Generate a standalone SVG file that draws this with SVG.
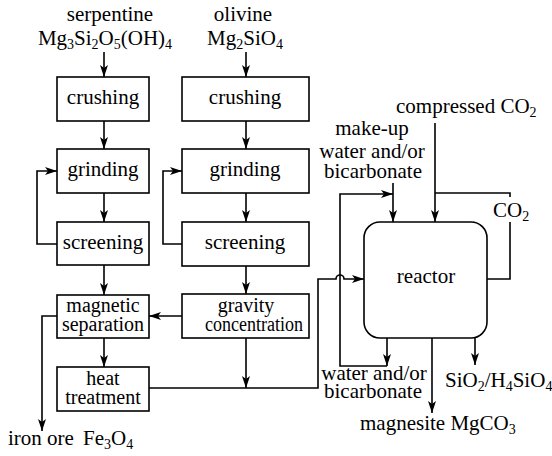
<svg xmlns="http://www.w3.org/2000/svg" width="552" height="456" viewBox="0 0 552 456" font-family="'Liberation Serif', 'DejaVu Serif', serif">
<defs>
<marker id="ah" viewBox="0 0 12 8" markerWidth="12" markerHeight="8" refX="12" refY="4" orient="auto" markerUnits="userSpaceOnUse">
<path d="M0,0 L12,4 L0,8 L3,4 Z" fill="#000"/>
</marker>
</defs>
<style>
text{font-family:'Liberation Serif','DejaVu Serif',serif;font-size:21px;fill:#000}
.m{text-anchor:middle}
.t{font-size:20px}
.s{font-size:14px}
.box{fill:#fff;stroke:#000;stroke-width:1.6}
.ln{fill:none;stroke:#000;stroke-width:1.6}
.ar{fill:none;stroke:#000;stroke-width:1.6;marker-end:url(#ah)}
</style>
<rect width="552" height="456" fill="#fff"/>

<g id="labels-top">
<text x="110" y="21" class="m">serpentine</text>
<text x="105" y="45" class="m">Mg<tspan class="s" dy="4">3</tspan><tspan dy="-4">Si</tspan><tspan class="s" dy="4">2</tspan><tspan dy="-4">O</tspan><tspan class="s" dy="4">5</tspan><tspan dy="-4">(OH)</tspan><tspan class="s" dy="4">4</tspan></text>
<text x="243" y="21" class="m">olivine</text>
<text x="245" y="45" class="m">Mg<tspan class="s" dy="4">2</tspan><tspan dy="-4">SiO</tspan><tspan class="s" dy="4">4</tspan></text>
</g>

<g id="connectors">
<path class="ar" d="M104,52 V77"/>
<path class="ar" d="M104,121 V149"/>
<path class="ar" d="M104,193 V222"/>
<path class="ar" d="M104,265 V295"/>
<path class="ar" d="M104,338 V367"/>
<path class="ar" d="M57,244 H37 V171 H57"/>
<path class="ar" d="M246,52 V77"/>
<path class="ar" d="M246,121 V149"/>
<path class="ar" d="M246,193 V222"/>
<path class="ar" d="M246,266 V294"/>
<path class="ar" d="M246,338 V388"/>
<path class="ar" d="M182,244 H163 V171 H182"/>
<path class="ar" d="M182,316 H149"/>
<path class="ar" d="M57,316 H42 V431"/>
<path class="ar" d="M149,388 H318 V279 H336 a4,4 0 0 1 8,0 H364"/>
<path class="ar" d="M393,183 V222"/>
<path class="ar" d="M435,123 V222"/>
<path class="ar" d="M387,338 V366"/>
<path class="ar" d="M387,366 H340 V194 H393"/>
<path class="ln" d="M435,193 H510 V197"/>
<path class="ln" d="M510,222 V279 H487"/>
<path class="ar" d="M432,338 V413"/>
<path class="ar" d="M475,338 V365"/>
</g>

<g id="s-crushing"><rect class="box" x="57" y="77" width="92" height="44"/><text x="103" y="104" class="m">crushing</text></g>
<g id="s-grinding"><rect class="box" x="57" y="149" width="92" height="44"/><text x="103" y="176" class="m">grinding</text></g>
<g id="s-screening"><rect class="box" x="57" y="222" width="92" height="43"/><text x="103" y="249" class="m">screening</text></g>
<g id="s-magnetic"><rect class="box" x="57" y="295" width="92" height="43"/><text x="103" y="312" class="m t">magnetic</text><text x="103" y="331" class="m t">separation</text></g>
<g id="s-heat"><rect class="box" x="57" y="367" width="92" height="44"/><text x="103" y="385" class="m t">heat</text><text x="103" y="404" class="m t">treatment</text></g>

<g id="o-crushing"><rect class="box" x="182" y="77" width="127" height="44"/><text x="245" y="104" class="m">crushing</text></g>
<g id="o-grinding"><rect class="box" x="182" y="149" width="127" height="44"/><text x="245" y="176" class="m">grinding</text></g>
<g id="o-screening"><rect class="box" x="182" y="222" width="127" height="44"/><text x="245" y="249" class="m">screening</text></g>
<g id="o-gravity"><rect class="box" x="182" y="294" width="127" height="44"/><text x="246" y="312" class="m t">gravity</text><text x="254" y="331" class="m t" textLength="98" lengthAdjust="spacingAndGlyphs">concentration</text></g>

<g id="reactor"><rect class="box" x="364" y="222" width="123" height="116" rx="16" ry="16"/><text x="426" y="283" class="m">reactor</text></g>

<g id="labels">
<text x="8" y="445">iron ore</text>
<text x="83" y="445">Fe<tspan class="s" dy="4">3</tspan><tspan dy="-4">O</tspan><tspan class="s" dy="4">4</tspan></text>
<text x="396" y="113">compressed CO<tspan class="s" dy="4">2</tspan></text>
<text x="372" y="135" class="m">make-up</text>
<text x="372" y="158" class="m">water and/or</text>
<text x="373" y="178" class="m">bicarbonate</text>
<text x="493" y="217">CO<tspan class="s" dy="4">2</tspan></text>
<text x="374" y="380" class="m">water and/or</text>
<text x="373" y="398" class="m">bicarbonate</text>
<text x="445" y="387">SiO<tspan class="s" dy="4">2</tspan><tspan dy="-4">/H</tspan><tspan class="s" dy="4">4</tspan><tspan dy="-4">SiO</tspan><tspan class="s" dy="4">4</tspan></text>
<text x="360" y="430">magnesite MgCO<tspan class="s" dy="4">3</tspan></text>
</g>
</svg>
